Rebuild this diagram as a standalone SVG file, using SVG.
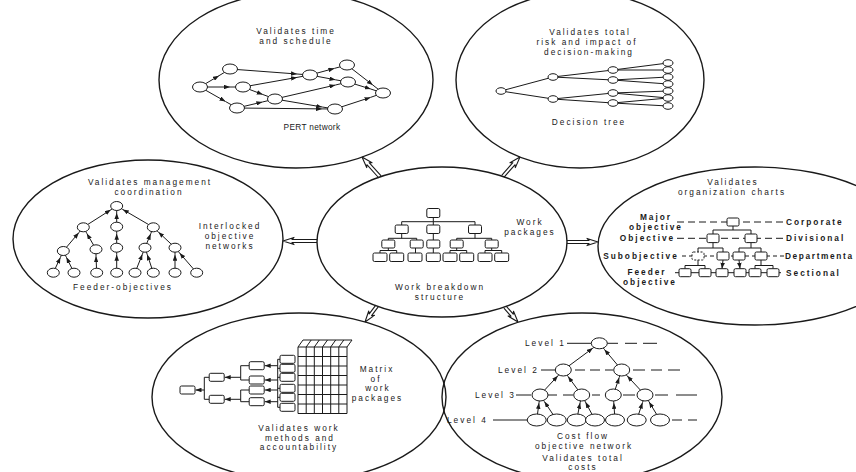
<svg xmlns="http://www.w3.org/2000/svg" width="856" height="472" viewBox="0 0 856 472">
<defs>
<marker id="ah" viewBox="0 0 8 6" refX="8" refY="3" markerWidth="6" markerHeight="4.5" orient="auto" markerUnits="userSpaceOnUse"><path d="M0,0 L8,3 L0,6 z" fill="#1a1a1a"/></marker>
</defs>
<style>
.o{fill:none;stroke:#1a1a1a;stroke-width:1.4}
.l{fill:none;stroke:#1a1a1a;stroke-width:1}
.m{fill:none;stroke:#1a1a1a;stroke-width:1;marker-mid:url(#ah)}
.e{fill:none;stroke:#1a1a1a;stroke-width:1;marker-end:url(#ah)}
.n{fill:#fff;stroke:#1a1a1a;stroke-width:1}
.dn{fill:#fff;stroke:#1a1a1a;stroke-width:1;stroke-dasharray:2 1.5}
.d{fill:none;stroke:#1a1a1a;stroke-width:1;stroke-dasharray:7 4}
.d2{fill:none;stroke:#1a1a1a;stroke-width:1;stroke-dasharray:4 3}
.c{fill:none;stroke:#1a1a1a;stroke-width:1.1;stroke-linejoin:round}
text{font-family:"Liberation Sans",Arial,sans-serif;font-size:8.3px;letter-spacing:2px;fill:#1a1a1a;text-anchor:middle}
.b{font-weight:bold}
.s{text-anchor:start}
</style>
<rect width="856" height="472" fill="#fff"/>

<g id="pert">
<ellipse class="o" cx="296" cy="80" rx="137" ry="88"/>
<text x="296" y="34">Validates time</text>
<text x="296" y="44">and schedule</text>
<path class="m" d="M200,87 L219,75.7 L230,69"/>
<path class="m" d="M200,87 L230,87 L243,87"/>
<path class="m" d="M200,87 L225.5,101.5 L237,108"/>
<path class="m" d="M230,69 L297,74 L310,75"/>
<path class="m" d="M243,87 L297,77.4 L310,75"/>
<path class="m" d="M243,87 L262.8,94.5 L275,99"/>
<path class="m" d="M237,108 L262.4,102 L275,99"/>
<path class="m" d="M237,108 L322,108.9 L335,109"/>
<path class="m" d="M275,99 L335.5,85 L348,82"/>
<path class="m" d="M275,99 L322.2,107 L335,109"/>
<path class="m" d="M310,75 L334.4,68.4 L347,65"/>
<path class="m" d="M310,75 L335.5,79.8 L348,82"/>
<path class="m" d="M347,65 L372.8,85 L383,93"/>
<path class="m" d="M348,82 L370.7,89 L383,93"/>
<path class="m" d="M335,109 L370.5,97.4 L383,93"/>
<ellipse class="n" cx="200" cy="87" rx="7.5" ry="5"/>
<ellipse class="n" cx="230" cy="69" rx="7.5" ry="5"/>
<ellipse class="n" cx="243" cy="87" rx="7.5" ry="5"/>
<ellipse class="n" cx="237" cy="108" rx="7.5" ry="5"/>
<ellipse class="n" cx="275" cy="99" rx="7.5" ry="5"/>
<ellipse class="n" cx="310" cy="75" rx="7.5" ry="5"/>
<ellipse class="n" cx="347" cy="65" rx="7.5" ry="5"/>
<ellipse class="n" cx="348" cy="82" rx="7.5" ry="5"/>
<ellipse class="n" cx="383" cy="93" rx="7.5" ry="5"/>
<ellipse class="n" cx="335" cy="109" rx="7.5" ry="5"/>
<text x="312" y="130" style="letter-spacing:0.3px">PERT network</text>
</g>

<g id="decision">
<ellipse class="o" cx="580" cy="80" rx="124" ry="88"/>
<text x="590" y="35">Validates total</text>
<text x="587" y="45">risk and impact of</text>
<text x="589" y="55">decision-making</text>
<path class="l" d="M501,91 L553,77 M501,91 L553,99 M553,77 L613,70 M553,77 L613,80 M553,99 L613,93 M553,99 L613,103 M613,70 L668,63 M613,70 L668,70 M613,80 L668,77 M613,80 L668,84 M613,93 L668,91 M613,93 L668,98 M613,103 L668,98 M613,103 L668,106"/>
<ellipse class="n" cx="501" cy="91" rx="5" ry="3.3"/>
<ellipse class="n" cx="553" cy="77" rx="5" ry="3.3"/>
<ellipse class="n" cx="553" cy="99" rx="5" ry="3.3"/>
<ellipse class="n" cx="613" cy="70" rx="5" ry="3.3"/>
<ellipse class="n" cx="613" cy="80" rx="5" ry="3.3"/>
<ellipse class="n" cx="613" cy="93" rx="5" ry="3.3"/>
<ellipse class="n" cx="613" cy="103" rx="5" ry="3.3"/>
<ellipse class="n" cx="668" cy="63" rx="5" ry="3.3"/>
<ellipse class="n" cx="668" cy="70" rx="5" ry="3.3"/>
<ellipse class="n" cx="668" cy="77" rx="5" ry="3.3"/>
<ellipse class="n" cx="668" cy="84" rx="5" ry="3.3"/>
<ellipse class="n" cx="668" cy="91" rx="5" ry="3.3"/>
<ellipse class="n" cx="668" cy="98" rx="5" ry="3.3"/>
<ellipse class="n" cx="668" cy="106" rx="5" ry="3.3"/>
<text x="589" y="125.3">Decision tree</text>
</g>

<g id="interlocked">
<ellipse class="o" cx="148" cy="239" rx="135" ry="79"/>
<text x="150" y="185">Validates management</text>
<text x="149" y="195">coordination</text>
<path class="m" d="M83.3,227.3 L110.8,209.8 L116.7,206"/>
<path class="m" d="M116.7,226.7 L116.7,213 L116.7,206"/>
<path class="m" d="M153.3,227.3 L122.8,209.5 L116.7,206"/>
<path class="m" d="M63.3,251 L78.8,232.7 L83.3,227.3"/>
<path class="m" d="M96,249.3 L86.8,233.4 L83.3,227.3"/>
<path class="m" d="M116.7,247.7 L116.7,233.7 L116.7,226.7"/>
<path class="m" d="M145,247.7 L150.7,233.8 L153.3,227.3"/>
<path class="m" d="M175,247.7 L158.4,232.1 L153.3,227.3"/>
<path class="m" d="M53.3,272.7 L60.4,257.4 L63.3,251"/>
<path class="m" d="M74,272.7 L66.4,257.3 L63.3,251"/>
<path class="m" d="M96.7,272.7 L96,256.3 L96,249.3"/>
<path class="m" d="M116.7,272.7 L116.7,254.7 L116.7,247.7"/>
<path class="m" d="M135,272.7 L142.4,254.2 L145,247.7"/>
<path class="m" d="M153.3,272.7 L147.2,254.4 L145,247.7"/>
<path class="m" d="M175,272.7 L175,254.7 L175,247.7"/>
<path class="m" d="M196.7,272.7 L179.6,253 L175,247.7"/>
<ellipse class="n" cx="116.7" cy="206" rx="6" ry="4.5"/>
<ellipse class="n" cx="83.3" cy="227.3" rx="6" ry="4.5"/>
<ellipse class="n" cx="116.7" cy="226.7" rx="6" ry="4.5"/>
<ellipse class="n" cx="153.3" cy="227.3" rx="6" ry="4.5"/>
<ellipse class="n" cx="63.3" cy="251" rx="6" ry="4.5"/>
<ellipse class="n" cx="96" cy="249.3" rx="6" ry="4.5"/>
<ellipse class="n" cx="116.7" cy="247.7" rx="6" ry="4.5"/>
<ellipse class="n" cx="145" cy="247.7" rx="6" ry="4.5"/>
<ellipse class="n" cx="175" cy="247.7" rx="6" ry="4.5"/>
<ellipse class="n" cx="53.3" cy="272.7" rx="6" ry="4.5"/>
<ellipse class="n" cx="74" cy="272.7" rx="6" ry="4.5"/>
<ellipse class="n" cx="96.7" cy="272.7" rx="6" ry="4.5"/>
<ellipse class="n" cx="116.7" cy="272.7" rx="6" ry="4.5"/>
<ellipse class="n" cx="135" cy="272.7" rx="6" ry="4.5"/>
<ellipse class="n" cx="153.3" cy="272.7" rx="6" ry="4.5"/>
<ellipse class="n" cx="175" cy="272.7" rx="6" ry="4.5"/>
<ellipse class="n" cx="196.7" cy="272.7" rx="6" ry="4.5"/>
<text x="230" y="229">Interlocked</text>
<text x="230" y="239">objective</text>
<text x="230" y="249">networks</text>
<text x="123" y="289.7">Feeder-objectives</text>
</g>

<g id="orgcharts">
<ellipse class="o" cx="755" cy="246" rx="157" ry="79"/>
<text x="733" y="185">Validates</text>
<text x="732" y="195">organization charts</text>
<path class="d" d="M677,222 H784 M677,238.3 H784"/>
<path class="d2" d="M682,256 H784"/>
<path class="l" d="M675,272.7 H781"/>
<path class="l" d="M733,226 V230 M713,230 H751 M713,230 V234 M751,230 V234 M713,242.6 V248 M698,248 H723 M698,248 V252 M723,248 V252 M751,242.6 V248 M739,248 H761 M739,248 V252 M761,248 V252 M698,260 V265.5 M685,265.5 H705 M685,265.5 V268.7 M705,265.5 V268.7 M761,260 V265.5 M755,265.5 H773 M755,265.5 V268.7 M773,265.5 V268.7"/>
<path class="e" d="M723,260 L722,268.7"/>
<path class="e" d="M739,260 L740,268.7"/>
<rect class="n" x="727" y="218" width="12" height="8" rx="1.5"/>
<rect class="n" x="707" y="234" width="12" height="8.6" rx="1.5"/>
<rect class="n" x="745" y="234" width="12" height="8.6" rx="1.5"/>
<rect class="dn" x="692" y="252" width="12" height="8" rx="1.5"/>
<rect class="n" x="717" y="252" width="12" height="8" rx="1.5"/>
<rect class="n" x="733" y="252" width="12" height="8" rx="1.5"/>
<rect class="n" x="755" y="252" width="12" height="8" rx="1.5"/>
<rect class="n" x="679" y="268.7" width="12" height="8" rx="1.5"/>
<rect class="n" x="699" y="268.7" width="12" height="8" rx="1.5"/>
<rect class="n" x="716" y="268.7" width="12" height="8" rx="1.5"/>
<rect class="n" x="734" y="268.7" width="12" height="8" rx="1.5"/>
<rect class="n" x="749" y="268.7" width="12" height="8" rx="1.5"/>
<rect class="n" x="767" y="268.7" width="12" height="8" rx="1.5"/>
<text class="b" x="656" y="219.5">Major</text>
<text class="b" x="656" y="229.5">objective</text>
<text class="b" x="647.5" y="241.3">Objective</text>
<text class="b" x="641" y="259">Subobjective</text>
<text class="b" x="647" y="274.7">Feeder</text>
<text class="b" x="650" y="284.7">objective</text>
<text class="b s" x="786" y="224.7">Corporate</text>
<text class="b s" x="786" y="241.3">Divisional</text>
<text class="b s" x="785" y="259" textLength="69" lengthAdjust="spacing">Departmenta</text>
<text class="b s" x="786" y="275.7">Sectional</text>
</g>

<g id="wbs">
<ellipse class="o" cx="442" cy="242" rx="125" ry="75"/>
<path class="l" d="M433.3,217.5 V221.7 M401.7,221.7 H475 M401.7,221.7 V225 M433.3,221.7 V225 M475,221.7 V225 M401.7,233.5 V238.3 M388.3,238.3 H416.7 M388.3,238.3 V240 M416.7,238.3 V240 M433.3,233.5 V240 M475,233.5 V238.3 M456.7,238.3 H491.7 M456.7,238.3 V240 M491.7,238.3 V240 M388.3,248 V250.5 M380,250.5 H396.7 M380,250.5 V253 M396.7,250.5 V253 M415.5,248 V253 M433.3,248 V253 M456.7,248 V250.5 M450,250.5 H466.7 M450,250.5 V253 M466.7,250.5 V253 M491.7,248 V250.5 M485,250.5 H501.7 M485,250.5 V253 M501.7,250.5 V253"/>
<rect class="n" x="426.8" y="208.5" width="13" height="9" rx="1.5"/>
<rect class="n" x="395.2" y="225" width="13" height="8.5" rx="1.5"/>
<rect class="n" x="426.8" y="225" width="13" height="8.5" rx="1.5"/>
<rect class="n" x="468.5" y="225" width="13" height="8.5" rx="1.5"/>
<rect class="n" x="381.8" y="240" width="13" height="8" rx="1.5"/>
<rect class="n" x="410.2" y="240" width="13" height="8" rx="1.5"/>
<rect class="n" x="426.8" y="240" width="13" height="8" rx="1.5"/>
<rect class="n" x="450.2" y="240" width="13" height="8" rx="1.5"/>
<rect class="n" x="485.2" y="240" width="13" height="8" rx="1.5"/>
<rect class="n" x="373" y="253" width="14" height="8.5" rx="1.5"/>
<rect class="n" x="389.7" y="253" width="14" height="8.5" rx="1.5"/>
<rect class="n" x="408" y="253" width="14" height="8.5" rx="1.5"/>
<rect class="n" x="426.3" y="253" width="14" height="8.5" rx="1.5"/>
<rect class="n" x="443" y="253" width="14" height="8.5" rx="1.5"/>
<rect class="n" x="459.7" y="253" width="14" height="8.5" rx="1.5"/>
<rect class="n" x="478" y="253" width="14" height="8.5" rx="1.5"/>
<rect class="n" x="494.7" y="253" width="14" height="8.5" rx="1.5"/>
<text x="530" y="225">Work</text>
<text x="530" y="235">packages</text>
<text x="440" y="290">Work breakdown</text>
<text x="440" y="300">structure</text>
</g>

<g id="matrix">
<ellipse class="o" cx="299" cy="397" rx="147" ry="84"/>
<path class="l" d="M204.3,377.3 V399.3 M204.3,377.3 H209.2 M204.3,399.3 H209.2 M240.7,365.7 V380 M240.7,390 V401.7 M240.7,365.7 H249.2 M240.7,380 H249.2 M240.7,390 H249.2 M240.7,401.7 H249.2 M277.7,359.3 V407.3 M277.7,359.3 H280 M277.7,368.3 H280 M277.7,377.3 H280 M277.7,388.3 H280 M277.7,397.3 H280 M277.7,407.3 H280"/>
<path class="e" d="M204.3,390 H195.5"/>
<path class="e" d="M240.7,377.3 H224.7"/>
<path class="e" d="M240.7,399.3 H224.7"/>
<path class="e" d="M277.7,365.7 H264.7"/>
<path class="e" d="M277.7,380 H264.7"/>
<path class="e" d="M277.7,390 H264.7"/>
<path class="e" d="M277.7,401.7 H264.7"/>
<rect class="n" x="180" y="386" width="15" height="8" rx="1.5"/>
<rect class="n" x="209.2" y="373.3" width="15" height="8" rx="1.5"/>
<rect class="n" x="209.2" y="395.3" width="15" height="8" rx="1.5"/>
<rect class="n" x="249.2" y="361.7" width="15" height="8" rx="1.5"/>
<rect class="n" x="249.2" y="376" width="15" height="8" rx="1.5"/>
<rect class="n" x="249.2" y="386" width="15" height="8" rx="1.5"/>
<rect class="n" x="249.2" y="397.7" width="15" height="8" rx="1.5"/>
<rect class="n" x="280" y="355.3" width="15" height="8" rx="1.5"/>
<rect class="n" x="280" y="364.3" width="15" height="8" rx="1.5"/>
<rect class="n" x="280" y="373.3" width="15" height="8" rx="1.5"/>
<rect class="n" x="280" y="384.3" width="15" height="8" rx="1.5"/>
<rect class="n" x="280" y="393.3" width="15" height="8" rx="1.5"/>
<rect class="n" x="280" y="403.3" width="15" height="8" rx="1.5"/>
<path class="l" d="M298,347 H347 V413.5 H298 Z M298,356.5 H347 M298,366 H347 M298,375.5 H347 M298,385 H347 M298,394.5 H347 M298,404 H347 M306.2,347 V413.5 M314.3,347 V413.5 M322.5,347 V413.5 M330.7,347 V413.5 M338.8,347 V413.5 M303,340 H352 M298,347 L303,340 M306.2,347 L311.2,340 M314.3,347 L319.3,340 M322.5,347 L327.5,340 M330.7,347 L335.7,340 M338.8,347 L343.8,340 M347,347 L352,340"/>
<text x="377" y="372">Matrix</text>
<text x="376" y="381.5">of</text>
<text x="378" y="391">work</text>
<text x="377.5" y="400.5">packages</text>
<text x="299" y="431">Validates work</text>
<text x="300" y="440.5">methods and</text>
<text x="299" y="450">accountability</text>
</g>

<g id="costflow">
<ellipse class="o" cx="582" cy="397" rx="140" ry="84"/>
<path class="l" d="M567,343.3 H591 M607,343.3 H618 M625,343.3 H637 M643,343.3 H657 M541,370 H555 M575,370 H585 M590,370 H600 M605,370 H613 M633,370 H645 M651,370 H662 M668,370 H680 M516,395 H531 M548,395 H557 M563,395 H573 M592,395 H600 M623,395 H635 M655,395 H668 M676,395 H697 M493,420 H527.5 M672,420 H682 M688,420 H697"/>
<path class="m" d="M563.3,370 L592.9,348.1 L599.3,343.3"/>
<path class="m" d="M621.7,370 L604.4,349.4 L599.3,343.3"/>
<path class="m" d="M540,395 L557.9,375.8 L563.3,370"/>
<path class="m" d="M581.7,395 L568,376.4 L563.3,370"/>
<path class="m" d="M613.3,395 L619.2,377.6 L621.7,370"/>
<path class="m" d="M645,395 L627.1,375.8 L621.7,370"/>
<path class="m" d="M536.7,420 L539,402.9 L540,395"/>
<path class="m" d="M556.7,420 L544.4,401.6 L540,395"/>
<path class="m" d="M576.7,420 L580.1,402.8 L581.7,395"/>
<path class="m" d="M595,420 L585.5,402.1 L581.7,395"/>
<path class="m" d="M615,420 L613.8,402.9 L613.3,395"/>
<path class="m" d="M636.7,420 L642.5,402.6 L645,395"/>
<path class="m" d="M660,420 L649.1,401.9 L645,395"/>
<ellipse class="n" cx="599.3" cy="343.3" rx="8" ry="5.5"/>
<ellipse class="n" cx="563.3" cy="370" rx="8" ry="6"/>
<ellipse class="n" cx="621.7" cy="370" rx="8" ry="6"/>
<ellipse class="n" cx="540" cy="395" rx="8" ry="6"/>
<ellipse class="n" cx="581.7" cy="395" rx="8" ry="6"/>
<ellipse class="n" cx="613.3" cy="395" rx="8" ry="6"/>
<ellipse class="n" cx="645" cy="395" rx="8" ry="6"/>
<ellipse class="n" cx="536.7" cy="420" rx="9.5" ry="6"/>
<ellipse class="n" cx="556.7" cy="420" rx="9.5" ry="6"/>
<ellipse class="n" cx="576.7" cy="420" rx="9.5" ry="6"/>
<ellipse class="n" cx="595" cy="420" rx="9.5" ry="6"/>
<ellipse class="n" cx="615" cy="420" rx="9.5" ry="6"/>
<ellipse class="n" cx="636.7" cy="420" rx="9.5" ry="6"/>
<ellipse class="n" cx="660" cy="420" rx="9.5" ry="6"/>
<text class="s" x="525" y="346.3">Level 1</text>
<text class="s" x="498" y="373">Level 2</text>
<text class="s" x="475" y="398">Level 3</text>
<text class="s" x="447" y="423">Level 4</text>
<text x="583" y="439">Cost flow</text>
<text x="584" y="448.5">objective network</text>
<text x="583" y="460.5">Validates total</text>
<text x="583" y="470">costs</text>
</g>

<g id="connectors">
<path class="c" transform="translate(283,241)" d="M0,0 L11,-3.6 L9,-1.5 L34,-1.5 M0,0 L11,3.6 L9,1.5 L34,1.5"/>
<path class="c" transform="translate(598,242) rotate(180)" d="M0,0 L11,-3.6 L9,-1.5 L31,-1.5 M0,0 L11,3.6 L9,1.5 L31,1.5"/>
<path class="c" transform="translate(362,157) rotate(48)" d="M0,0 L11,-3.6 L9,-1.5 L26.9,-1.5 M0,0 L11,3.6 L9,1.5 L26.9,1.5"/>
<path class="c" transform="translate(520,157) rotate(131.8)" d="M0,0 L11,-3.6 L9,-1.5 L25.5,-1.5 M0,0 L11,3.6 L9,1.5 L25.5,1.5"/>
<path class="c" transform="translate(365,322) rotate(-53.1)" d="M0,0 L11,-3.6 L9,-1.5 L20,-1.5 M0,0 L11,3.6 L9,1.5 L20,1.5"/>
<path class="c" transform="translate(518,322) rotate(-130.9)" d="M0,0 L11,-3.6 L9,-1.5 L19.8,-1.5 M0,0 L11,3.6 L9,1.5 L19.8,1.5"/>
</g>
</svg>
